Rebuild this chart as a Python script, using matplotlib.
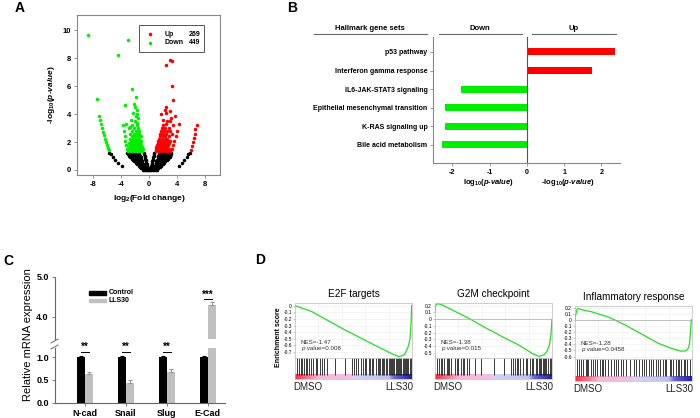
import numpy as np
import matplotlib.pyplot as plt
from matplotlib.lines import Line2D
from matplotlib.patches import Rectangle
from matplotlib.colors import LinearSegmentedColormap

plt.rcParams['font.family'] = ['Liberation Sans', 'DejaVu Sans']
plt.rcParams['mathtext.fontset'] = 'custom'
plt.rcParams['mathtext.rm'] = 'Liberation Sans:bold'
plt.rcParams['mathtext.it'] = 'Liberation Sans:italic:bold'
plt.rcParams['mathtext.bf'] = 'Liberation Sans:bold'
plt.rcParams['axes.unicode_minus'] = False

# ---------------- data ----------------
# A: volcano plot, read row by row (y level, x positions)
black_rows = [
    (0.02, [-0.9, -0.7, -0.5, -0.3, -0.15, 0, 0.15, 0.3, 0.5, 0.7, 0.9, 1.1]),
    (0.12, [-1.1, -0.9, -0.7, -0.5, -0.3, -0.15, 0.15, 0.3, 0.5, 0.7, 0.9, 1.1, 1.3]),
    (0.22, [-1.3, -1.1, -0.9, -0.7, -0.5, -0.25, 0.25, 0.5, 0.7, 0.9, 1.1, 1.3, 1.5]),
    (0.32, [-3.9, -1.5, -1.3, -1.1, -0.9, -0.7, -0.3, 0.3, 0.7, 0.9, 1.1, 1.3, 1.5, 1.7, 4.2]),
    (0.42, [-1.7, -1.5, -1.3, -1.1, -0.9, -0.35, 0.35, 0.9, 1.1, 1.3, 1.5, 1.7, 1.9]),
    (0.52, [-4.5, -1.9, -1.7, -1.5, -1.3, -1.0, -0.4, 0.4, 1.0, 1.3, 1.5, 1.7, 1.9, 2.1, 4.7]),
    (0.62, [-2.1, -1.9, -1.6, -1.3, -1.0, -0.45, 0.45, 1.0, 1.3, 1.6, 1.9, 2.1, 2.3]),
    (0.72, [-4.9, -2.3, -2.0, -1.7, -1.4, -1.1, -0.5, 0.5, 1.1, 1.4, 1.7, 2.0, 2.3, 2.5, 5.0]),
    (0.82, [-2.5, -2.2, -1.9, -1.6, -1.2, -0.55, 0.55, 1.2, 1.6, 1.9, 2.2, 2.5, 2.7]),
    (0.92, [-5.2, -2.7, -2.4, -2.0, -1.6, -1.2, -0.6, 0.6, 1.2, 1.6, 2.0, 2.4, 2.7, 2.9, 5.4]),
    (1.02, [-2.9, -2.5, -2.1, -1.7, -1.3, -0.65, 0.65, 1.3, 1.7, 2.1, 2.5, 2.9, 3.0]),
    (1.12, [-5.5, -3.0, -2.6, -2.2, -1.8, -1.4, -0.7, 0.7, 1.4, 1.8, 2.2, 2.6, 3.0, 3.1, 5.6]),
    (1.22, [-5.7, -3.1, -2.7, -2.3, -1.9, -1.5, -0.75, 0.75, 1.5, 1.9, 2.3, 2.7, 3.1, 5.8]),
]
green_rows = [
    (1.35, [-3.0, -2.6, -2.2, -1.8, -1.4, -1.0]),
    (1.5, [-3.2, -2.8, -2.4, -2.0, -1.6, -1.2, -0.9]),
    (1.65, [-2.9, -2.5, -2.1, -1.7, -1.3, -1.0]),
    (1.8, [-3.3, -2.7, -2.3, -1.9, -1.5, -1.1]),
    (1.95, [-2.9, -2.5, -2.1, -1.7, -1.3]),
    (2.1, [-3.4, -2.6, -2.2, -1.8, -1.4, -1.1]),
    (2.25, [-2.8, -2.3, -1.9, -1.5]),
    (2.4, [-3.5, -2.5, -2.0, -1.6, -1.2]),
    (2.6, [-2.7, -2.2, -1.8, -1.4]),
    (2.8, [-3.6, -2.4, -1.9, -1.5]),
    (3.0, [-2.9, -2.1, -1.6]),
    (3.2, [-3.8, -2.5, -1.8]),
]
green_extra = [(-3.3, 3.3), (-2.7, 3.1), (-2.0, 3.5), (-1.6, 3.7), (-1.9, 3.9),
               (-2.3, 4.1), (-1.8, 4.0), (-1.7, 3.4), (-2.6, 3.6), (-3.43, 4.64),
               (-2.1, 4.7), (-1.9, 5.2), (-2.4, 5.8), (-1.8, 4.3), (-2.0, 4.5),
               (-7.5, 5.07), (-8.8, 9.7), (-3.05, 9.3), (-4.5, 8.26),
               (-5.8, 1.4), (-5.9, 1.6), (-6.05, 1.8), (-6.2, 2.0), (-6.35, 2.25),
               (-6.5, 2.5), (-6.6, 2.75), (-6.75, 3.0), (-6.9, 3.3), (-7.0, 3.6), (-7.1, 3.9)]
red_rows = [
    (1.35, [1.0, 1.4, 1.8, 2.2, 2.6, 3.0]),
    (1.5, [0.9, 1.2, 1.6, 2.0, 2.4, 2.8, 3.2]),
    (1.65, [1.0, 1.4, 1.8, 2.2, 2.6]),
    (1.8, [1.1, 1.5, 1.9, 2.3, 2.7, 3.4]),
    (1.95, [1.2, 1.6, 2.0, 2.4, 2.8]),
    (2.1, [1.3, 1.7, 2.1, 2.5, 3.0, 3.6]),
    (2.25, [1.4, 1.8, 2.2, 2.6]),
    (2.4, [1.5, 1.9, 2.3, 2.8, 3.8]),
    (2.6, [1.6, 2.0, 2.4, 3.2]),
    (2.8, [1.7, 2.1, 2.6, 3.0, 4.0]),
    (3.0, [1.8, 2.3, 2.8]),
]
red_extra = [(2.4, 3.3), (1.9, 3.2), (3.4, 3.2), (4.2, 3.3), (2.9, 3.5), (2.6, 3.5),
             (2.0, 3.6), (3.7, 3.9), (2.4, 4.1), (2.9, 4.2), (2.25, 4.3), (2.38, 4.48),
             (3.38, 5.0), (3.19, 6.0), (2.43, 7.55), (3.0, 7.9), (3.3, 7.84), (1.7, 4.0),
             (3.1, 3.7), (5.9, 1.45), (6.05, 1.7), (6.2, 2.0), (6.35, 2.3), (6.5, 2.6),
             (6.6, 2.9), (6.75, 3.2)]
n_up, n_down = 269, 449

# B: hallmark gene sets
gene_sets = ['p53 pathway', 'Interferon gamma response', 'IL6-JAK-STAT3 signaling',
             'Epithelial mesenchymal transition', 'K-RAS signaling up', 'Bile acid metabolism']
log_p = [2.36, 1.74, -1.77, -2.2, -2.2, -2.28]

# C: qPCR
genes = ['N-cad', 'Snail', 'Slug', 'E-Cad']
ctrl = [1.0, 1.0, 1.0, 1.0]
ctrl_err = [0.02, 0.02, 0.02, 0.02]
lls30 = [0.62, 0.44, 0.68, 4.3]
lls30_err = [0.05, 0.06, 0.05, 0.07]
stars = ['**', '**', '**', '***']

# D: GSEA running enrichment scores and hit positions
e2f_x = [0, 0.144, 0.287, 0.43, 0.575, 0.718, 0.833, 0.89, 0.934, 0.954, 0.971, 0.983, 0.991, 0.997]
e2f_y = [0, -0.09, -0.23, -0.37, -0.5, -0.63, -0.73, -0.77, -0.74, -0.675, -0.6, -0.5, -0.29, 0]
e2f_hits = [0.02, 0.03, 0.05, 0.06, 0.08, 0.09, 0.10, 0.12, 0.14, 0.15, 0.18, 0.19, 0.21, 0.23,
            0.25, 0.27, 0.34, 0.43, 0.49, 0.50, 0.52, 0.54, 0.56, 0.58, 0.60, 0.61, 0.63, 0.64,
            0.66, 0.67, 0.69, 0.71, 0.72, 0.73, 0.74, 0.75, 0.76, 0.78, 0.79, 0.80, 0.81, 0.82,
            0.83, 0.84, 0.85, 0.86, 0.87, 0.88, 0.89, 0.90, 0.91, 0.92, 0.93, 0.94, 0.95, 0.96,
            0.97, 0.98, 0.99]
g2m_x = [0, 0.005, 0.02, 0.05, 0.144, 0.287, 0.43, 0.575, 0.718, 0.833, 0.89, 0.934, 0.957, 0.977, 0.991, 1.0]
g2m_y = [0.1, 0.2, 0.23, 0.22, 0.14, 0.015, -0.125, -0.26, -0.385, -0.51, -0.55, -0.525, -0.475, -0.385, -0.235, 0]
g2m_hits = [0.02, 0.03, 0.05, 0.06, 0.08, 0.10, 0.11, 0.12, 0.14, 0.17, 0.19, 0.20, 0.22, 0.24,
            0.25, 0.27, 0.29, 0.34, 0.39, 0.50, 0.59, 0.65, 0.67, 0.68, 0.70, 0.71, 0.73, 0.75,
            0.78, 0.79, 0.81, 0.83, 0.84, 0.86, 0.87, 0.89, 0.90, 0.91, 0.92, 0.93, 0.94, 0.95,
            0.97, 0.98, 0.99, 1.0]
inf_x = [0, 0.006, 0.017, 0.029, 0.057, 0.143, 0.286, 0.429, 0.571, 0.714, 0.829, 0.9, 0.943,
         0.96, 0.971, 0.98, 0.989, 0.994]
inf_y = [0, 0.08, 0.17, 0.185, 0.165, 0.13, 0.045, -0.085, -0.235, -0.385, -0.47, -0.51, -0.51,
         -0.485, -0.455, -0.37, -0.15, 0]
inf_hits = [0.02, 0.03, 0.05, 0.07, 0.09, 0.10, 0.11, 0.14, 0.15, 0.17, 0.19, 0.21, 0.23, 0.24,
            0.26, 0.28, 0.31, 0.33, 0.35, 0.37, 0.39, 0.41, 0.44, 0.47, 0.50, 0.52, 0.55, 0.57,
            0.59, 0.61, 0.63, 0.65, 0.67, 0.69, 0.71, 0.73, 0.75, 0.77, 0.78, 0.81, 0.82, 0.84,
            0.86, 0.88, 0.89, 0.91, 0.93, 0.94, 0.96, 0.98]
gsea_titles = ['E2F targets', 'G2M checkpoint', 'Inflammatory response']
gsea_nes = ['-1.47', '-1.38', '-1.28']
gsea_p = ['0.008', '0.015', '0.0458']

# ---------------- figure ----------------
W, H = 700, 418
fig = plt.figure(figsize=(7, 4.18), dpi=100)


def ax_px(l, t, r, b):
    return fig.add_axes([l / W, 1 - b / H, (r - l) / W, (b - t) / H])


def ftext(x, y, s, **kw):
    fig.text(x / W, 1 - y / H, s, **kw)


def fline(x0, x1, y0, y1, **kw):
    fig.add_artist(Line2D([x0 / W, x1 / W], [1 - y0 / H, 1 - y1 / H], **kw))


for lab, x, y in [('A', 20, 8), ('B', 292, 8), ('C', 8, 261), ('D', 260, 260)]:
    ftext(x, y, lab, fontsize=10, fontweight='bold', ha='center', va='center')

# ----- A -----
def flatten(rows):
    xs = np.concatenate([np.array(r[1], float) for r in rows])
    ys = np.concatenate([np.full(len(r[1]), r[0]) for r in rows])
    return xs, ys

bx, by = flatten(black_rows)
gx, gy = flatten(green_rows)
rx, ry = flatten(red_rows)
gx = np.concatenate([gx, [p[0] for p in green_extra]])
gy = np.concatenate([gy, [p[1] for p in green_extra]])
rx = np.concatenate([rx, [p[0] for p in red_extra]])
ry = np.concatenate([ry, [p[1] for p in red_extra]])

axA = ax_px(77, 15, 220, 175)
axA.scatter(bx, by, s=6.5, c='black', marker='o', linewidths=0)
axA.scatter(gx, gy, s=6.5, c='#00ee00', marker='o', linewidths=0)
axA.scatter(rx, ry, s=6.5, c='#ff0000', marker='o', linewidths=0)
axA.set_xlim(-10.3, 10.1)
axA.set_ylim(-0.36, 11.1)
axA.set_xticks([-8, -4, 0, 4, 8])
axA.set_yticks([0, 2, 4, 6, 8, 10])
for sp in axA.spines.values():
    sp.set_color('#888888')
    sp.set_linewidth(0.8)
axA.tick_params(labelsize=5.5, length=2.5, width=0.6, color='#888888', pad=2)
for t in axA.get_xticklabels() + axA.get_yticklabels():
    t.set_fontweight('bold')
axA.set_ylabel(r'-log$_{10}$($\it{p}$-$\it{value}$)', fontsize=6, fontweight='bold', labelpad=4)
ftext(149, 199, r'log$_2$(Fold change)', fontsize=6, fontweight='bold', ha='center', va='center')
axA.add_patch(Rectangle((0.434, 0.769), 0.454, 0.168, transform=axA.transAxes,
                        fill=False, edgecolor='#555555', lw=0.7))
axA.scatter([0.508], [0.881], s=6.5, c='#ff0000', transform=axA.transAxes, linewidths=0)
axA.scatter([0.508], [0.827], s=6.5, c='#00ee00', transform=axA.transAxes, linewidths=0)
axA.text(0.615, 0.881, 'Up', transform=axA.transAxes, fontsize=5, fontweight='bold', va='center')
axA.text(0.615, 0.827, 'Down', transform=axA.transAxes, fontsize=5, fontweight='bold', va='center')
axA.text(0.86, 0.881, str(n_up), transform=axA.transAxes, fontsize=5, fontweight='bold', va='center', ha='right')
axA.text(0.86, 0.827, str(n_down), transform=axA.transAxes, fontsize=5, fontweight='bold', va='center', ha='right')

# ----- B -----
axB = ax_px(433, 37, 620, 163)
ypos = np.arange(len(gene_sets))
bcol = ['#ff0000' if v > 0 else '#00ee00' for v in log_p]
axB.barh(ypos, log_p, height=0.38, color=bcol)
axB.set_ylim(5.97, -0.8)
axB.set_xlim(-2.52, 2.5)
axB.axvline(0, color='#555555', lw=0.8)
axB.set_yticks(ypos)
axB.set_yticklabels(gene_sets, fontsize=5, fontweight='bold')
axB.set_xticks([-2, -1, 0, 1, 2])
axB.set_xticklabels(['-2', '-1', '0', '1', '2'], fontsize=5, fontweight='bold')
for s in ['top', 'right']:
    axB.spines[s].set_visible(False)
for s in ['left', 'bottom']:
    axB.spines[s].set_color('#888888')
    axB.spines[s].set_linewidth(0.8)
axB.tick_params(length=2, width=0.6, color='#888888', pad=2)
ftext(370, 28, 'Hallmark gene sets', fontsize=5.5, fontweight='bold', ha='center', va='center')
ftext(480, 28, 'Down', fontsize=5.5, fontweight='bold', ha='center', va='center')
ftext(574, 28, 'Up', fontsize=5.5, fontweight='bold', ha='center', va='center')
fline(314, 427, 34, 34, color='#666666', lw=0.8)
fline(439, 522, 34, 34, color='#666666', lw=0.8)
fline(532, 616, 34, 34, color='#666666', lw=0.8)
ftext(489, 183, r'log$_{10}$($\it{p}$-$\it{value}$)', fontsize=5.5, fontweight='bold', ha='center', va='center')
ftext(568, 183, r'-log$_{10}$($\it{p}$-$\it{value}$)', fontsize=5.5, fontweight='bold', ha='center', va='center')

# ----- C -----
xg = np.arange(len(genes))
axCl = ax_px(55, 348, 225, 402.7)
axCu = ax_px(55, 277, 225, 339)
for ax in (axCl, axCu):
    ax.bar(xg - 0.1, ctrl, width=0.2, color='black')
    ax.bar(xg + 0.1, lls30, width=0.2, color='#c0c0c0')
    ax.errorbar(xg - 0.1, ctrl, yerr=[np.zeros(4), ctrl_err], fmt='none', ecolor='black',
                elinewidth=0.8, capsize=1.5, capthick=0.8)
    ax.errorbar(xg + 0.1, lls30, yerr=[np.zeros(4), lls30_err], fmt='none', ecolor='#999999',
                elinewidth=0.8, capsize=1.5, capthick=0.8)
    ax.set_xlim(-0.73, 3.42)
    ax.spines['top'].set_visible(False)
    ax.spines['right'].set_visible(False)
    ax.spines['left'].set_color('#666666')
    ax.spines['bottom'].set_color('#666666')
    ax.tick_params(labelsize=6.5, length=2.5, width=0.6, color='#666666', pad=2)
axCl.set_ylim(0, 1.2)
axCl.set_yticks([0, 0.5, 1.0])
axCl.set_yticklabels(['0.0', '0.5', '1.0'], fontweight='bold')
axCl.set_xticks(xg)
axCl.set_xticklabels(genes, fontweight='bold')
axCu.set_ylim(3.45, 5.0)
axCu.set_yticks([4.0, 5.0])
axCu.set_yticklabels(['4.0', '5.0'], fontweight='bold')
axCu.spines['bottom'].set_visible(False)
axCu.set_xticks([])
for i in range(3):
    axCl.plot([i - 0.1, i + 0.1], [1.12, 1.12], color='black', lw=0.7, clip_on=False)
    axCl.text(i, 1.115, stars[i], ha='center', va='bottom', fontsize=7, fontweight='bold', clip_on=False)
axCu.plot([2.9, 3.1], [4.44, 4.44], color='black', lw=0.7)
axCu.text(3, 4.435, stars[3], ha='center', va='bottom', fontsize=7, fontweight='bold')
fline(51, 58, 343, 339, color='#666666', lw=0.7)
fline(51, 58, 349, 345, color='#666666', lw=0.7)
axCu.add_patch(Rectangle((0.105, 4.56), 0.4, 0.08, color='black'))
axCu.add_patch(Rectangle((0.105, 4.37), 0.4, 0.08, color='#c0c0c0'))
axCu.text(0.57, 4.6, 'Control', fontsize=5, fontweight='bold', va='center')
axCu.text(0.57, 4.41, 'LLS30', fontsize=5, fontweight='bold', va='center')
ftext(28, 335, 'Relative mRNA expression', fontsize=8, rotation=90, ha='center', va='center')

# ----- D -----
cmap = LinearSegmentedColormap.from_list('rank', [
    (0.0, '#ee3344'), (0.17, '#f2a0b8'), (0.2, '#f5b8d8'), (0.48, '#f0c0e2'),
    (0.5, '#d4d4f6'), (0.8, '#c0c0ee'), (0.85, '#6666d4'), (1.0, '#2222a8')])
ramp = np.linspace(0, 1, 256).reshape(1, -1)

panels = [
    (295, 303, 412, 358, 379, e2f_x, e2f_y, e2f_hits, [0, -0.1, -0.2, -0.3, -0.4, -0.5, -0.6, -0.7],
     (-0.79, 0.04), 294),
    (435, 303, 552, 358, 379, g2m_x, g2m_y, g2m_hits, [0.2, 0.1, 0, -0.1, -0.2, -0.3, -0.4, -0.5],
     (-0.575, 0.24), 294),
    (575, 305.7, 692, 359, 380.7, inf_x, inf_y, inf_hits,
     [0.2, 0.1, 0, -0.1, -0.2, -0.3, -0.4, -0.5, -0.6], (-0.64, 0.23), 296.5),
]
for k, (l, t, r, m, b, xs, ys, hits, yt, yl, ty) in enumerate(panels):
    axe = ax_px(l, t, r, m)
    axe.plot(xs, ys, color='#22dd22', lw=0.9)
    axe.set_xlim(0, 1)
    axe.set_ylim(*yl)
    axe.set_xticks([0.2, 0.4, 0.6, 0.8])
    axe.set_xticklabels([])
    axe.tick_params(axis='x', length=0)
    axe.grid(True, color='#eeeeee', lw=0.4)
    if k > 0:
        axe.axhline(0, color='#aaaaaa', lw=0.5)
    axe.set_yticks(yt)
    axe.set_yticklabels([('%g' % v) for v in yt], fontsize=3.5)
    axe.tick_params(axis='y', length=1.2, width=0.4, pad=1, color='#999999')
    for sp in axe.spines.values():
        sp.set_color('#bbbbbb')
        sp.set_linewidth(0.5)
    axe.text(0.05, 0.285, 'NES=' + gsea_nes[k], transform=axe.transAxes, fontsize=4.5,
             color='#333333', va='center')
    axe.text(0.05, 0.17, 'p', transform=axe.transAxes, fontsize=4.5, color='#333333',
             va='center', style='italic')
    axe.text(0.085, 0.17, ' value=' + gsea_p[k], transform=axe.transAxes, fontsize=4.5,
             color='#333333', va='center')
    ftext((l + r) / 2, ty, gsea_titles[k], fontsize=7.2, ha='center', va='center')

    axh = ax_px(l, m, r, b)
    axh.vlines(hits, 0.2, 1.0, color='#1a1a1a', lw=0.6)
    axh.imshow(ramp, cmap=cmap, extent=(0, 1, 0, 0.2), aspect='auto')
    axh.set_xlim(0, 1)
    axh.set_ylim(0, 1)
    axh.set_xticks([])
    axh.set_yticks([])
    for sp in axh.spines.values():
        sp.set_color('#bbbbbb')
        sp.set_linewidth(0.5)
    ftext(l - 2, b + 8, 'DMSO', fontsize=7, color='#222222', ha='left', va='center')
    ftext(r + 1, b + 8, 'LLS30', fontsize=7, color='#222222', ha='right', va='center')

ftext(278, 337, 'Enrichment score', fontsize=5, fontweight='bold', rotation=90, ha='center', va='center')

fig.savefig('out.png', dpi=100)
